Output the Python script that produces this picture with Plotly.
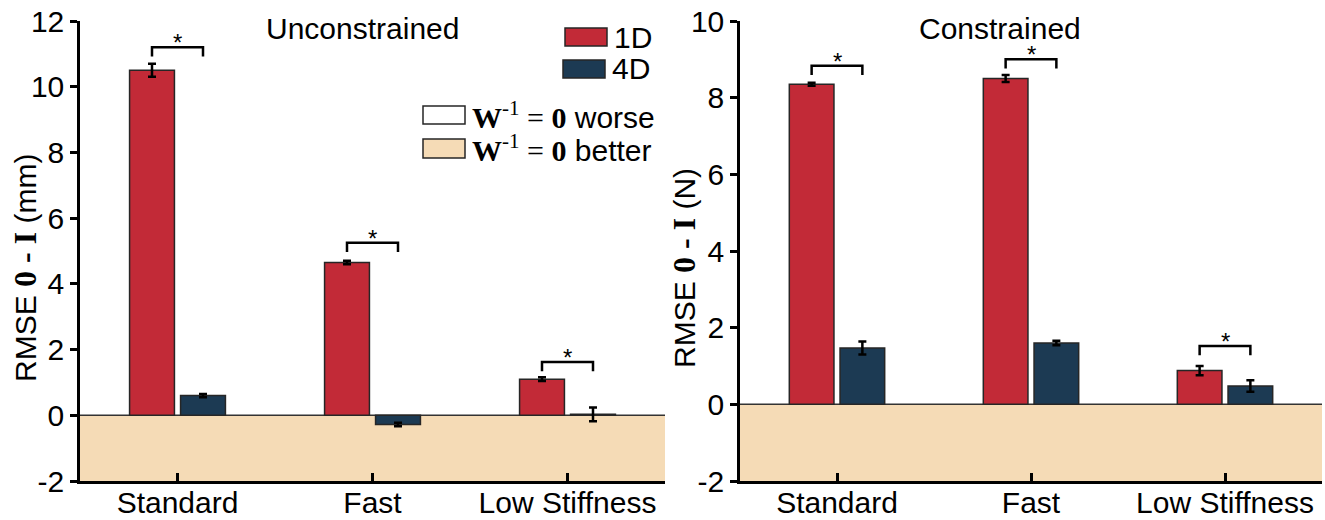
import plotly.graph_objects as go

# ---------------- data ----------------
categories = ["Standard", "Fast", "Low Stiffness"]
cat_pos = [0, 1, 2]

unc_1d = [10.5, 4.65, 1.1]
unc_1d_err = [0.2, 0.05, 0.06]
unc_4d = [0.6, -0.28, 0.03]
unc_4d_err = [0.05, 0.05, 0.21]
unc_sig_y = [11.2, 5.25, 1.62]

con_1d = [8.35, 8.5, 0.88]
con_1d_err = [0.04, 0.09, 0.12]
con_4d = [1.47, 1.6, 0.48]
con_4d_err = [0.17, 0.06, 0.15]
con_sig_y = [8.83, 9.0, 1.52]

unc_yticks = [-2, 0, 2, 4, 6, 8, 10, 12]
con_yticks = [-2, 0, 2, 4, 6, 8, 10]

# ---------------- style ----------------
RED = "#C22A37"
NAVY = "#1C3A53"
TAN = "#F5DBB6"
EDGE = "#262626"
SANS = "Liberation Sans"
SERIF = "Liberation Serif"
FS = 30

W, H = 1325, 520
ML, MR, MT, MB = 80, 3, 21, 39
PW, PH = W - ML - MR, H - MT - MB


def px(x):
    return (x - ML) / PW


def py(y):
    return (H - MB - y) / PH


BARGAP = 0.477
BARGROUPGAP = 0.12
half = (1 - BARGAP) / 4  # bar center offset from category center

fig = go.Figure()


def add_panel(v1, e1, v4, e4, sig, xa, ya, tail):
    fig.add_trace(go.Bar(
        x=cat_pos, y=v1, xaxis=xa, yaxis=ya, name="1D", showlegend=False,
        marker=dict(color=RED, line=dict(color=EDGE, width=1.5)),
        error_y=dict(type="data", array=e1, color="black", thickness=2.5, width=4)))
    fig.add_trace(go.Bar(
        x=cat_pos, y=v4, xaxis=xa, yaxis=ya, name="4D", showlegend=False,
        marker=dict(color=NAVY, line=dict(color=EDGE, width=1.5)),
        error_y=dict(type="data", array=e4, color="black", thickness=2.5, width=4)))
    bx, by = [], []
    for c, h in zip(cat_pos, sig):
        bx += [c - half, c - half, c + half, c + half, None]
        by += [h - tail, h, h, h - tail, None]
        fig.add_annotation(x=c, y=h, xref=xa, yref=ya, text="*", showarrow=False,
                           xanchor="center", yanchor="bottom", yshift=-11,
                           font=dict(family=SANS, size=24, color="black"))
    fig.add_trace(go.Scatter(x=bx, y=by, xaxis=xa, yaxis=ya, mode="lines",
                             line=dict(color="black", width=2.5), showlegend=False,
                             hoverinfo="skip"))


add_panel(unc_1d, unc_1d_err, unc_4d, unc_4d_err, unc_sig_y, "x", "y", 0.28)
add_panel(con_1d, con_1d_err, con_4d, con_4d_err, con_sig_y, "x2", "y2", 0.24)

# shaded "better" region and zero line
for xa, ya in (("x", "y"), ("x2", "y2")):
    fig.add_shape(type="rect", xref=f"{xa} domain", yref=ya, x0=0, x1=1, y0=-2, y1=0,
                  fillcolor=TAN, line=dict(width=0), layer="below")
    fig.add_shape(type="line", xref=f"{xa} domain", yref=ya, x0=0, x1=1, y0=0, y1=0,
                  line=dict(color="#333333", width=1.5), layer="below")

axis_common = dict(showline=True, linecolor="black", linewidth=2.5, showgrid=False,
                   zeroline=False, automargin=False,
                   tickfont=dict(family=SANS, size=FS, color="black"))

fig.update_layout(
    width=W, height=H,
    margin=dict(l=ML, r=MR, t=MT, b=MB, autoexpand=False),
    paper_bgcolor="white", plot_bgcolor="white",
    barmode="group", bargap=BARGAP, bargroupgap=BARGROUPGAP,
    showlegend=False,
    font=dict(family=SANS, size=FS, color="black"),
    xaxis=dict(domain=[0, px(665)], range=[-0.5, 2.5], tickvals=cat_pos, ticktext=categories,
               ticks="inside", ticklen=8, tickwidth=2.5, tickcolor="black", anchor="y",
               ticklabelstandoff=-7, **axis_common),
    yaxis=dict(domain=[0, 1], range=[-2, 12], tickvals=unc_yticks,
               ticktext=[str(v) for v in unc_yticks], ticks="outside", ticklen=7,
               tickwidth=2.5, tickcolor="black", anchor="x", **axis_common),
    xaxis2=dict(domain=[px(740), 1], range=[-0.5, 2.5], tickvals=cat_pos, ticktext=categories,
                ticks="inside", ticklen=8, tickwidth=2.5, tickcolor="black", anchor="y2",
                ticklabelstandoff=-7, **axis_common),
    yaxis2=dict(domain=[0, 1], range=[-2, 10], tickvals=con_yticks,
                ticktext=[str(v) for v in con_yticks], ticks="outside", ticklen=7,
                tickwidth=2.5, tickcolor="black", anchor="x2", **axis_common),
)

# titles
fig.add_annotation(x=px(362), y=py(28), xref="paper", yref="paper", text="Unconstrained",
                   showarrow=False, xanchor="center", yanchor="middle",
                   font=dict(family=SANS, size=FS))
fig.add_annotation(x=px(1000), y=py(28), xref="paper", yref="paper", text="Constrained",
                   showarrow=False, xanchor="center", yanchor="middle",
                   font=dict(family=SANS, size=FS))

bold = f"<span style='font-family:{SERIF};font-size:32px'><b>0 - I</b></span>"
fig.add_annotation(x=px(25), y=py(268), xref="paper", yref="paper",
                   text=f"RMSE {bold} (mm)", textangle=-90, showarrow=False,
                   xanchor="center", yanchor="middle", font=dict(family=SANS, size=FS))
fig.add_annotation(x=px(684), y=py(268), xref="paper", yref="paper",
                   text=f"RMSE {bold} (N)", textangle=-90, showarrow=False,
                   xanchor="center", yanchor="middle", font=dict(family=SANS, size=FS))

# manual legend
legend_items = [
    (565, 607, 28, 46, RED, "1D", 612, 37),
    (563, 605, 60, 78, NAVY, "4D", 610, 69),
    (423, 465, 106, 124, "white",
     f"<span style='font-family:{SERIF}'><b>W</b><sup>-1</sup> = <b>0</b></span> worse", 470, 115),
    (423, 465, 139, 158, TAN,
     f"<span style='font-family:{SERIF}'><b>W</b><sup>-1</sup> = <b>0</b></span> better", 470, 148),
]
for x0, x1, y0, y1, col, label, tx, ty in legend_items:
    fig.add_shape(type="rect", xref="paper", yref="paper", x0=px(x0), x1=px(x1),
                  y0=py(y1), y1=py(y0), fillcolor=col, line=dict(color=EDGE, width=1.5))
    fig.add_annotation(x=px(tx), y=py(ty), xref="paper", yref="paper", text=label,
                       showarrow=False, xanchor="left", yanchor="middle",
                       font=dict(family=SANS, size=FS))

fig.write_html("out.html")
